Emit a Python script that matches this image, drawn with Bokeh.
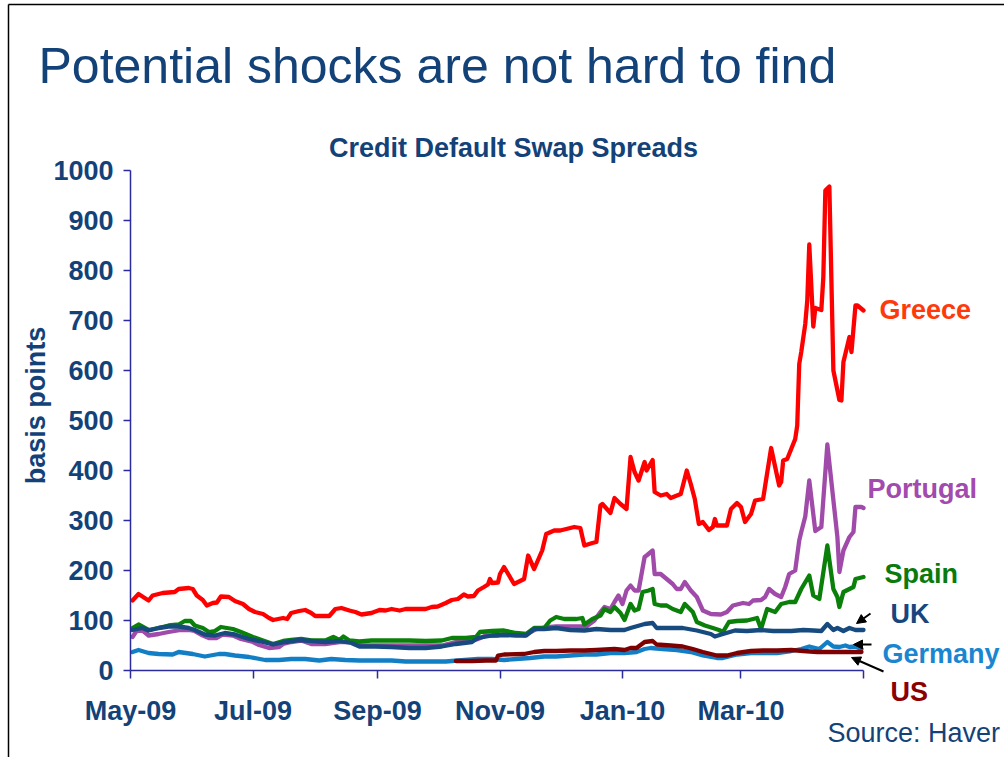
import math
import pandas as pd
from bokeh.plotting import figure
from bokeh.models import (Range1d, FixedTicker, DatetimeTickFormatter, Label,
                          Arrow, NormalHead)
from bokeh.embed import file_html
from bokeh.resources import INLINE

# ---------------- data (days since 1 May 2009, spread in basis points) ----------
START = "2009-05-01"

greece_day = [1, 4, 9, 11, 16, 22, 24, 29, 31, 33, 36, 38, 41, 43, 45, 49, 52, 56, 59, 62,
              66, 69, 71, 76, 78, 80, 84, 87, 90, 92, 99, 102, 105, 109, 112, 115, 120, 124,
              127, 130, 134, 137, 140, 147, 150, 153, 157, 160, 163, 166, 168, 171, 173, 176,
              178, 179, 180, 183, 184, 186, 191, 196, 198, 201, 205, 207, 211, 214, 217, 221,
              224, 226, 230, 232, 234, 235, 239, 241, 244, 247, 249, 251, 253, 256, 257, 260,
              261, 264, 267, 269, 274, 277, 279, 281, 283, 285, 288, 290, 291, 292, 297, 299,
              302, 304, 306, 309, 311, 315, 319, 323, 324, 325, 327, 331, 332, 333, 334, 336,
              337, 338, 340, 341, 344, 345, 346, 348, 350, 353, 354, 355, 358, 359, 361, 362, 365]
greece_bp = [140, 153, 140, 150, 155, 157, 163, 165, 163, 150, 141, 130, 135, 136, 148, 147, 139,
             133, 123, 117, 113, 105, 101, 105, 103, 115, 119, 121, 115, 109, 109, 123, 125, 120,
             117, 112, 115, 121, 120, 123, 120, 123, 123, 123, 127, 128, 135, 141, 143, 152, 148,
             149, 160, 167, 172, 183, 175, 176, 193, 207, 173, 183, 230, 203, 240, 273, 280, 280,
             283, 287, 285, 250, 255, 257, 330, 333, 315, 345, 333, 323, 427, 397, 380, 417, 400,
             421, 357, 350, 353, 345, 353, 400, 373, 343, 293, 297, 281, 287, 303, 290, 290, 323,
             335, 327, 297, 313, 340, 343, 445, 370, 377, 420, 423, 463, 490, 613, 637, 693, 740,
             852, 688, 725, 721, 787, 960, 968, 600, 541, 540, 617, 667, 637, 730, 730, 720]

portugal_day = [1, 3, 6, 9, 14, 19, 22, 25, 29, 32, 36, 39, 43, 46, 51, 55, 61, 64, 69, 74, 76,
                80, 85, 90, 97, 104, 110, 115, 122, 130, 139, 147, 155, 162, 168, 173, 177, 183,
                186, 192, 196, 202, 209, 212, 222, 227, 231, 234, 236, 239, 241, 243, 245, 247,
                249, 251, 253, 256, 257, 260, 261, 264, 267, 270, 272, 274, 276, 279, 282, 285,
                289, 294, 297, 300, 303, 305, 308, 310, 314, 316, 318, 321, 324, 326, 328, 331,
                333, 334, 336, 338, 341, 344, 347, 352, 353, 355, 358, 360, 361, 364, 365]
portugal_bp = [67, 79, 80, 70, 73, 77, 79, 81, 81, 79, 70, 65, 65, 72, 70, 63, 57, 51, 45, 47, 53,
               57, 60, 53, 53, 57, 57, 50, 50, 50, 50, 50, 50, 57, 60, 63, 70, 70, 73, 73, 70, 83,
               87, 88, 88, 88, 100, 117, 127, 123, 137, 150, 133, 160, 170, 160, 160, 227, 230,
               240, 193, 193, 183, 173, 163, 163, 177, 160, 147, 120, 113, 112, 117, 130, 133,
               135, 133, 140, 141, 147, 163, 153, 147, 167, 193, 200, 260, 277, 308, 380, 279,
               287, 452, 267, 197, 240, 267, 277, 327, 327, 325]

spain_day = [1, 4, 9, 14, 19, 24, 27, 30, 32, 36, 39, 42, 45, 51, 55, 61, 66, 71, 76, 80, 85, 90,
             97, 101, 104, 106, 109, 114, 120, 130, 139, 147, 155, 160, 167, 172, 174, 180, 186,
             192, 197, 201, 206, 209, 212, 216, 222, 225, 226, 230, 234, 236, 239, 241, 244, 246,
             249, 251, 253, 255, 258, 260, 261, 264, 267, 270, 274, 276, 280, 282, 286, 290, 293,
             295, 298, 302, 307, 312, 314, 317, 321, 324, 328, 331, 334, 338, 340, 343, 347, 350,
             352, 353, 355, 358, 360, 361, 365]
spain_bp = [85, 92, 81, 85, 90, 92, 99, 99, 90, 85, 77, 79, 87, 83, 77, 67, 60, 53, 59, 61, 63,
            60, 60, 67, 61, 68, 60, 58, 60, 60, 60, 59, 60, 65, 65, 67, 77, 79, 80, 75, 73, 85, 85,
            100, 107, 103, 103, 105, 92, 103, 110, 123, 117, 127, 115, 101, 133, 120, 123, 157,
            160, 163, 133, 130, 130, 123, 117, 133, 117, 97, 90, 85, 81, 77, 97, 99, 100, 105, 83,
            123, 117, 133, 137, 137, 163, 190, 150, 143, 250, 163, 147, 127, 157, 163, 167, 183, 187]

uk_day = [1, 6, 9, 14, 19, 24, 29, 32, 37, 42, 47, 52, 59, 66, 71, 77, 84, 90, 97, 104, 110, 114,
          122, 130, 139, 147, 155, 162, 170, 173, 180, 186, 192, 197, 201, 206, 212, 219, 226, 232,
          239, 246, 249, 256, 260, 262, 269, 275, 282, 289, 291, 295, 301, 307, 314, 320, 329,
          335, 340, 344, 347, 350, 352, 355, 358, 361, 365]
uk_bp = [81, 85, 80, 85, 88, 88, 85, 81, 72, 70, 75, 72, 63, 57, 52, 57, 61, 59, 57, 59, 55, 48,
         48, 47, 45, 45, 48, 53, 57, 65, 70, 71, 70, 70, 83, 83, 85, 81, 80, 83, 81, 81, 85, 93, 95,
         85, 85, 85, 80, 73, 68, 73, 80, 79, 81, 79, 79, 81, 80, 79, 93, 81, 85, 79, 85, 81, 81]

germany_day = [1, 4, 9, 14, 21, 24, 31, 37, 44, 47, 52, 59, 67, 74, 80, 87, 94, 100, 107, 114,
               124, 130, 137, 147, 157, 163, 173, 180, 186, 192, 199, 206, 212, 219, 226, 232,
               239, 246, 252, 256, 259, 265, 272, 279, 285, 292, 295, 302, 309, 315, 322, 329,
               334, 338, 343, 347, 350, 353, 356, 358, 361, 364]
germany_bp = [37, 41, 35, 33, 32, 37, 33, 28, 33, 33, 30, 27, 21, 21, 23, 23, 20, 23, 21, 20, 20,
              20, 18, 18, 18, 20, 23, 23, 21, 23, 25, 28, 28, 30, 32, 32, 35, 35, 37, 43, 45, 43,
              41, 37, 30, 25, 25, 32, 35, 35, 35, 39, 43, 48, 43, 57, 48, 47, 50, 47, 48, 43]

us_day = [162, 170, 177, 182, 183, 186, 196, 201, 206, 212, 219, 226, 232, 241, 246, 249, 252,
          256, 260, 262, 269, 275, 280, 285, 292, 297, 302, 309, 315, 322, 329, 335, 342, 348,
          355, 364]
us_bp = [19, 19, 20, 20, 30, 32, 33, 37, 39, 39, 40, 40, 41, 43, 41, 45, 45, 57, 59, 52, 50, 48,
         43, 37, 30, 30, 35, 39, 40, 40, 41, 39, 37, 37, 37, 37]

tick_dates = ["2009-05-01", "2009-07-01", "2009-09-01", "2009-11-01", "2010-01-01", "2010-03-01"]
end_tick_date = "2010-05-01"
y_ticks = list(range(0, 1001, 100))

series = [
    ("Germany", germany_day, germany_bp, "#127EC6"),
    ("US", us_day, us_bp, "#7F0000"),
    ("Portugal", portugal_day, portugal_bp, "#A04BA9"),
    ("Spain", spain_day, spain_bp, "#0A800A"),
    ("UK", uk_day, uk_bp, "#174A7E"),
    ("Greece", greece_day, greece_bp, "#FF0000"),
]

# ---------------- layout constants ----------------
W, H = 1004, 757
FL, FR, FT, FB = 130, 863, 170, 670  # chart area edges (page pixels)
NAVY = "#134279"
AXIS = "#2B2B9C"
FONT = "Liberation Sans"

t0 = pd.Timestamp(START)
t1 = pd.Timestamp(end_tick_date)


def ms(ts):
    return pd.Timestamp(ts).timestamp() * 1000.0


def dx(px):
    """page pixel x -> data x (ms)"""
    return ms(t0) + (px - FL) / (FR - FL) * (ms(t1) - ms(t0))


def dy(py):
    """page pixel y -> data y"""
    return (FB - py) / (FB - FT) * 1000.0


# the plotting frame covers the whole slide; axes sit at fixed locations inside it
p = figure(width=W, height=H, x_axis_type="datetime",
           x_range=Range1d(dx(0), dx(W)), y_range=Range1d(dy(H), dy(0)),
           output_backend="svg", toolbar_location=None,
           min_border_left=0, min_border_right=0, min_border_top=0, min_border_bottom=0)
p.outline_line_color = None
p.grid.visible = False
p.background_fill_color = "white"
p.border_fill_color = "white"

for name, days, vals, col in series:
    xs = t0 + pd.to_timedelta(days, unit="D")
    p.line(xs, vals, line_width=4.3, color=col, line_join="round", line_cap="round")

# axes
fmt = "%b-%y"
p.xaxis.ticker = FixedTicker(ticks=[ms(d) for d in tick_dates], minor_ticks=[ms(end_tick_date)])
p.xaxis.formatter = DatetimeTickFormatter(microseconds=fmt, milliseconds=fmt, seconds=fmt,
                                          minsec=fmt, minutes=fmt, hourmin=fmt, hours=fmt,
                                          days=fmt, months=fmt, years=fmt)
p.yaxis.ticker = FixedTicker(ticks=y_ticks)
p.xaxis.fixed_location = 0
p.yaxis.fixed_location = ms(t0)
p.xaxis.bounds = (ms(t0), ms(t1))
p.yaxis.bounds = (0, 1000)
for ax in (p.xaxis[0], p.yaxis[0]):
    ax.axis_line_color = AXIS
    ax.axis_line_width = 1.5
    ax.major_tick_line_color = AXIS
    ax.major_tick_line_width = 1.5
    ax.minor_tick_line_color = AXIS
    ax.minor_tick_line_width = 1.5
    ax.major_tick_in = 0
    ax.minor_tick_in = 0
    ax.major_label_text_font = FONT
    ax.major_label_text_font_size = "27px"
    ax.major_label_text_font_style = "bold"
    ax.major_label_text_color = NAVY
p.xaxis.major_tick_out = 8
p.xaxis.minor_tick_out = 8
p.xaxis.major_label_standoff = 17
p.yaxis.major_tick_out = 7
p.yaxis.minor_tick_out = 0
p.yaxis.major_label_standoff = 10


def lab(text, px, py, color, size=27, style="bold", align="left", angle=0.0):
    """py is the vertical middle of the text line (page pixels)"""
    p.add_layout(Label(x=dx(px), y=dy(py), text=text, text_font=FONT,
                       text_font_size=f"{size}px", text_font_style=style, text_color=color,
                       text_align=align, text_baseline="middle", angle=angle))


lab("Potential shocks are not hard to find", 38, 65.5, NAVY, size=50, style="normal")
lab("Credit Default Swap Spreads", 513, 147.5, NAVY, align="center")
lab("basis points", 35, 405, NAVY, align="center", angle=math.pi / 2)
lab("Greece", 879, 309.5, "#FF3A0A")
lab("Portugal", 867, 488.5, "#A24AAD")
lab("Spain", 884, 573.5, "#0A7A0A")
lab("UK", 890, 613.5, "#17457E")
lab("Germany", 882, 653.5, "#1A86D0")
lab("US", 890, 691.5, "#8B0000")
lab("Source: Haver", 827, 732.5, NAVY, style="normal")

# pointer arrows
for (x0, y0, x1, y1) in [(870, 613, 856, 623), (871, 644, 853, 644), (883, 671, 851, 657)]:
    p.add_layout(Arrow(x_start=dx(x0), y_start=dy(y0), x_end=dx(x1), y_end=dy(y1),
                       line_color="black", line_width=2,
                       end=NormalHead(size=9, fill_color="black", line_color="black")))

# slide frame (left and top rules)
for (x0, y0, x1, y1) in [(8, 4, 8, 757), (8, 4, 1004, 4)]:
    p.add_layout(Arrow(x_start=dx(x0), y_start=dy(y0), x_end=dx(x1), y_end=dy(y1),
                       line_color="black", line_width=1.5, end=None))

open("out.html", "w").write(file_html(p, INLINE))
